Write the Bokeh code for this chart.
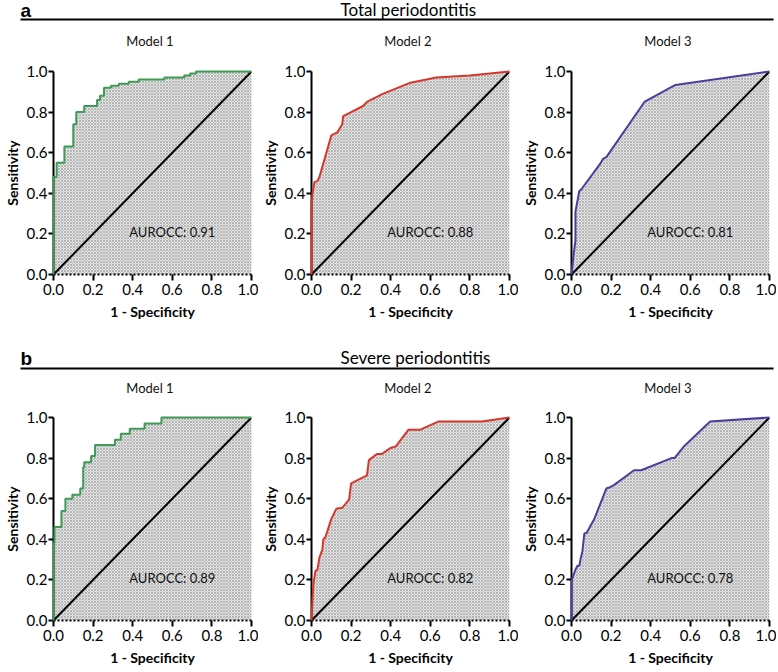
from bokeh.plotting import figure
from bokeh.layouts import column, row
from bokeh.models import Range1d, FixedTicker, Label
from bokeh.embed import file_html
from bokeh.resources import INLINE

FONT = "Lato"

# ---------------- data ----------------
tick_values = [0.0, 0.2, 0.4, 0.6, 0.8, 1.0]
tick_labels = ["0.0", "0.2", "0.4", "0.6", "0.8", "1.0"]
diag = [0.0, 1.0]

models = ["Model 1", "Model 2", "Model 3"]
groups = ["Total periodontitis", "Severe periodontitis"]
letters = ["a", "b"]

# Model 1 (stepped ROC, operating points)
a1_fpr = [0, 0, 0.016, 0.055, 0.10, 0.115, 0.155, 0.22, 0.235, 0.255, 0.29, 0.33, 0.38, 0.43, 0.56, 0.66, 0.69, 0.72, 1.0]
a1_tpr = [0, 0.48, 0.55, 0.63, 0.74, 0.80, 0.83, 0.86, 0.88, 0.92, 0.93, 0.94, 0.95, 0.96, 0.97, 0.98, 0.99, 1.0, 1.0]

b1_fpr = [0, 0, 0.005, 0.04, 0.06, 0.095, 0.135, 0.15, 0.155, 0.19, 0.21, 0.31, 0.34, 0.385, 0.46, 0.545, 1.0]
b1_tpr = [0, 0.38, 0.46, 0.54, 0.60, 0.62, 0.65, 0.755, 0.78, 0.81, 0.865, 0.89, 0.92, 0.945, 0.97, 1.0, 1.0]

# Model 2
a2_fpr = [0, 0, 0.005, 0.015, 0.03, 0.04, 0.10, 0.13, 0.155, 0.16, 0.20, 0.26, 0.28, 0.36, 0.50, 0.63, 0.80, 1.0]
a2_tpr = [0, 0.33, 0.40, 0.455, 0.46, 0.48, 0.685, 0.70, 0.74, 0.78, 0.80, 0.83, 0.85, 0.89, 0.945, 0.97, 0.98, 1.0]

b2_fpr = [0, 0.005, 0.01, 0.02, 0.03, 0.04, 0.055, 0.06, 0.07, 0.09, 0.10, 0.125, 0.155, 0.19, 0.20, 0.23, 0.28, 0.29,
          0.33, 0.355, 0.40, 0.425, 0.49, 0.55, 0.64, 0.86, 1.0]
b2_tpr = [0, 0.10, 0.18, 0.245, 0.25, 0.31, 0.35, 0.40, 0.41, 0.47, 0.50, 0.55, 0.555, 0.595, 0.675, 0.69, 0.715, 0.79,
          0.82, 0.82, 0.85, 0.857, 0.94, 0.94, 0.98, 0.98, 1.0]

# Model 3
a3_fpr = [0, 0.011, 0.02, 0.02, 0.039, 0.05, 0.148, 0.159, 0.176, 0.37, 0.525, 1.0]
a3_tpr = [0, 0.10, 0.167, 0.31, 0.41, 0.42, 0.55, 0.57, 0.578, 0.852, 0.934, 1.0]

b3_fpr = [0, 0, 0.005, 0.02, 0.03, 0.04, 0.045, 0.055, 0.065, 0.075, 0.115, 0.176, 0.19, 0.214, 0.316, 0.352,
          0.505, 0.52, 0.57, 0.70, 1.0]
b3_tpr = [0, 0.19, 0.21, 0.25, 0.27, 0.27, 0.30, 0.34, 0.43, 0.43, 0.50, 0.65, 0.655, 0.667, 0.74, 0.74,
          0.80, 0.80, 0.86, 0.98, 1.0]

aurocc = [[0.91, 0.88, 0.81], [0.89, 0.82, 0.78]]
colors = ["#3f9a55", "#d8362b", "#4a3d9e"]
stepped = [True, False, False]

curves = [[(a1_fpr, a1_tpr), (a2_fpr, a2_tpr), (a3_fpr, a3_tpr)],
          [(b1_fpr, b1_tpr), (b2_fpr, b2_tpr), (b3_fpr, b3_tpr)]]

# ---------------- layout (pixels) ----------------
FRAME = 203
col_widths = [258, 260, 258]
left_border = 48
TOTAL_W = sum(col_widths)


def staircase(fpr, tpr):
    xs, ys = [fpr[0]], [tpr[0]]
    for i in range(1, len(fpr)):
        xs.append(fpr[i]); ys.append(tpr[i - 1])
        xs.append(fpr[i]); ys.append(tpr[i])
    return xs, ys


def panel(fpr, tpr, color, auc, step, width):
    if step:
        xs, ys = staircase(fpr, tpr)
    else:
        xs, ys = fpr, tpr
    p = figure(width=width, height=9 + FRAME + 48, output_backend="svg", toolbar_location=None, title=None,
               x_range=Range1d(0, 1), y_range=Range1d(0, 1),
               min_border_left=left_border, min_border_right=width - left_border - FRAME,
               min_border_top=9, min_border_bottom=48)
    p.outline_line_color = None
    p.grid.visible = False
    p.background_fill_color = "white"

    p.varea(x=xs, y1=0, y2=ys, fill_color="#e6e6e6", fill_alpha=1.0,
            hatch_pattern="x", hatch_scale=3, hatch_color="#b4b4b4", hatch_weight=1)
    p.line(diag, diag, line_color="black", line_width=2)
    p.line(xs, ys, line_color=color, line_width=2, level="overlay")

    p.add_layout(Label(x=0.6, y=0.21, text="AUROCC: %.2f" % auc, text_font=FONT,
                       text_font_size="13px", text_align="center", text_baseline="middle",
                       text_color="#111111"))

    for ax in (p.xaxis[0], p.yaxis[0]):
        ax.ticker = FixedTicker(ticks=tick_values)
        ax.major_label_overrides = {v: l for v, l in zip(tick_values, tick_labels)}
        ax.axis_line_width = 2
        ax.axis_line_color = "black"
        ax.major_tick_line_width = 2
        ax.major_tick_line_color = "black"
        ax.major_tick_in = 0
        ax.minor_tick_line_color = None
        ax.major_label_text_font = FONT
        ax.major_label_text_font_size = "15px"
        ax.major_label_text_color = "black"
        ax.axis_label_text_font = FONT
        ax.axis_label_text_font_style = "bold"
        ax.axis_label_text_font_size = "14px"
        ax.axis_label_text_color = "black"
    p.xaxis.axis_label = "1 - Specificity"
    p.xaxis.major_tick_out = 6
    p.xaxis.major_label_standoff = 3
    p.xaxis.axis_label_standoff = 5
    p.xaxis.axis_line_dash = "2 2"
    p.yaxis.axis_label = "Sensitivity"
    p.yaxis.major_tick_out = 5
    p.yaxis.major_label_standoff = 1
    p.yaxis.axis_label_standoff = 3
    return p


def header(letter, text, h, line_y, letter_y, text_y, model_y):
    # ranges in pixel units (y measured from the bottom of this strip)
    p = figure(width=TOTAL_W, height=h, output_backend="svg", toolbar_location=None, title=None,
               x_range=Range1d(0, TOTAL_W), y_range=Range1d(0, h),
               x_axis_location=None, y_axis_location=None,
               min_border_left=0, min_border_right=0, min_border_top=0, min_border_bottom=0)
    p.outline_line_color = None
    p.grid.visible = False
    p.segment(x0=[20], y0=[line_y], x1=[773], y1=[line_y], line_color="black", line_width=2)
    p.add_layout(Label(x=20, y=letter_y, text=letter, text_font="Liberation Sans", text_font_style="bold",
                       text_font_size="19px", text_baseline="middle", text_color="black"))
    p.add_layout(Label(x=340, y=text_y, text=text, text_font=FONT, text_font_size="17px",
                       text_baseline="middle", text_align="left", text_color="black"))
    x0 = 0
    for m, w in enumerate(col_widths):
        cx = x0 + left_border + FRAME / 2
        p.add_layout(Label(x=cx, y=model_y, text=models[m], text_font=FONT, text_font_size="13px",
                           text_baseline="middle", text_align="center", text_color="#111111"))
        x0 += w
    return p


# (strip height, rule y, letter y, group-title y, model-title y), y from strip bottom
header_specs = [(62, 43, 52, 53, 22), (86, 40, 50, 51, 21)]
rows = []
for g in range(2):
    h, ly, lty, ty, my = header_specs[g]
    rows.append(header(letters[g], groups[g], h, ly, lty, ty, my))
    panels = []
    for m in range(3):
        fpr, tpr = curves[g][m]
        panels.append(panel(fpr, tpr, colors[m], aurocc[g][m], stepped[m], col_widths[m]))
    rows.append(row(*panels, spacing=0))

layout = column(*rows, spacing=0)
open("out.html", "w").write(file_html(layout, INLINE))
